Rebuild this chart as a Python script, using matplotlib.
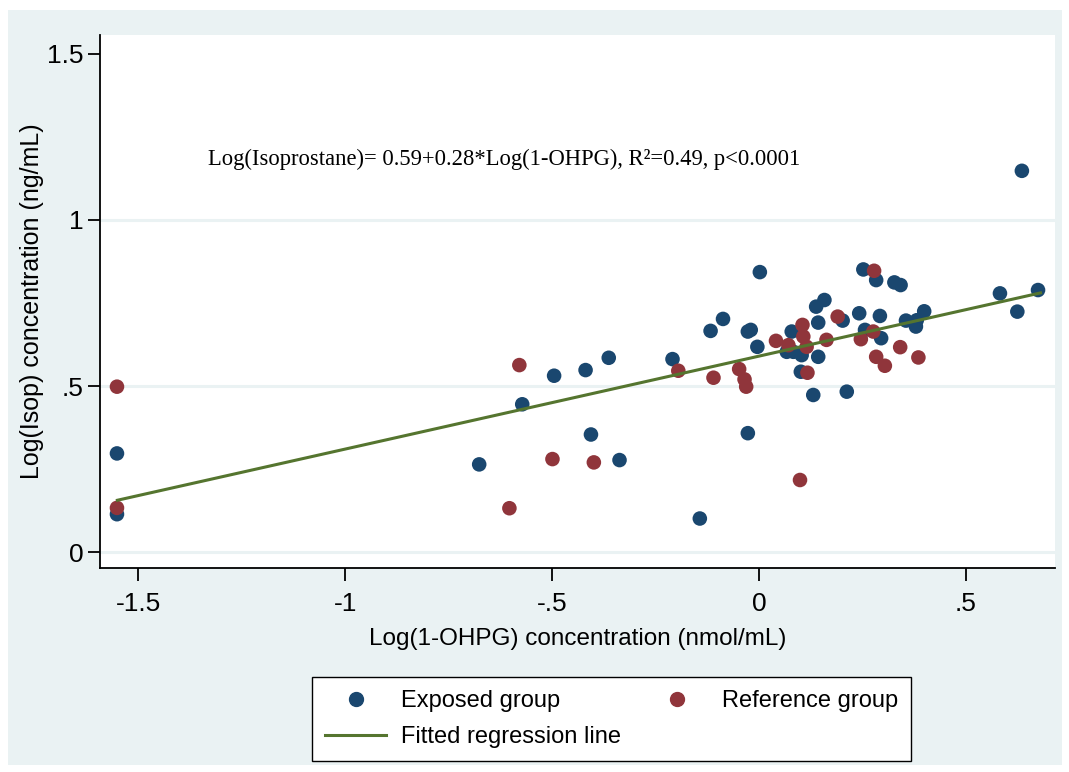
import matplotlib.pyplot as plt
from matplotlib.patches import Rectangle
from matplotlib.lines import Line2D
import numpy as np

# exposed group (log 1-OHPG, log isoprostane)
exp_x = [-1.551, -1.551, -0.676, -0.572, -0.495, -0.419, -0.406, -0.363, -0.337, -0.209,
         -0.143, -0.117, -0.087, -0.027, -0.027, -0.020, -0.004, 0.002, 0.067, 0.079,
         0.083, 0.103, 0.101, 0.131, 0.138, 0.143, 0.143, 0.158, 0.202, 0.212,
         0.242, 0.252, 0.256, 0.283, 0.292, 0.295, 0.327, 0.342, 0.355, 0.379,
         0.381, 0.399, 0.582, 0.624, 0.635, 0.674]
exp_y = [0.297, 0.114, 0.264, 0.445, 0.531, 0.548, 0.354, 0.585, 0.277, 0.581,
         0.101, 0.666, 0.702, 0.358, 0.664, 0.669, 0.618, 0.843, 0.603, 0.664,
         0.603, 0.593, 0.543, 0.473, 0.739, 0.691, 0.588, 0.759, 0.697, 0.483,
         0.719, 0.851, 0.669, 0.819, 0.711, 0.644, 0.812, 0.804, 0.697, 0.679,
         0.698, 0.725, 0.779, 0.724, 1.148, 0.789]

# reference group
ref_x = [-1.551, -1.551, -0.603, -0.579, -0.499, -0.399, -0.195, -0.110, -0.048, -0.035,
         -0.031, 0.041, 0.071, 0.099, 0.105, 0.107, 0.115, 0.117, 0.163, 0.190,
         0.246, 0.276, 0.278, 0.283, 0.304, 0.341, 0.385]
ref_y = [0.498, 0.133, 0.132, 0.563, 0.280, 0.270, 0.546, 0.525, 0.551, 0.520,
         0.498, 0.636, 0.623, 0.217, 0.684, 0.649, 0.618, 0.540, 0.639, 0.709,
         0.641, 0.664, 0.847, 0.588, 0.561, 0.617, 0.586]

intercept, slope = 0.59, 0.28
fit_x = np.array([-1.55, 0.68])
fit_y = intercept + slope * fit_x

navy = '#1A476F'
maroon = '#90353B'
green = '#55752F'
bg = '#EAF2F3'

plt.rcParams['font.family'] = ['Liberation Sans', 'DejaVu Sans']

fig = plt.figure(figsize=(10.69, 7.72), dpi=100, facecolor='white')
fig.patches.append(Rectangle((8/1069, 1 - 765/772), 1054/1069, 755/772,
                             transform=fig.transFigure, facecolor=bg, edgecolor='none', zorder=-5))

ax = fig.add_axes([100/1069, 1 - 568/772, 955/1069, 533/772])
ax.set_facecolor('white')

ax.scatter(exp_x, exp_y, s=110, color=navy, edgecolors='none', zorder=3)
ax.scatter(ref_x, ref_y, s=110, color=maroon, edgecolors='none', zorder=3)
ax.plot(fit_x, fit_y, color=green, lw=2.2, zorder=4)

ax.set_xlim(-1.592, 0.715)
ax.set_ylim(-0.048, 1.557)
ax.set_xticks([-1.5, -1, -0.5, 0, 0.5])
ax.set_xticklabels(['-1.5', '-1', '-.5', '0', '.5'])
ax.set_yticks([0, 0.5, 1, 1.5])
ax.set_yticklabels(['0', '.5', '1', '1.5'])
ax.tick_params(axis='both', labelsize=19, length=9, width=1.3, direction='out', color='black')
ax.tick_params(axis='x', pad=8)
ax.tick_params(axis='y', pad=3)

ax.yaxis.grid(True, color=bg, lw=2.2)
ax.yaxis.get_gridlines()[-1].set_visible(False)
ax.set_axisbelow(True)

for side in ['top', 'right']:
    ax.spines[side].set_visible(False)
for side in ['left', 'bottom']:
    ax.spines[side].set_linewidth(1.3)

ax.set_xlabel('Log(1-OHPG) concentration (nmol/mL)', fontsize=17.5, labelpad=9)
ax.set_ylabel('Log(Isop) concentration (ng/mL)', fontsize=18, labelpad=2)

ax.text(-1.331, 1.181, 'Log(Isoprostane)= 0.59+0.28*Log(1-OHPG), R²=0.49, p<0.0001',
        fontsize=16.3, family=['Liberation Serif', 'DejaVu Serif'], va='center', ha='left')

handles = [
    Line2D([], [], marker='o', ls='none', color=navy, markersize=10),
    Line2D([], [], color=green, lw=2.2),
    Line2D([], [], marker='o', ls='none', color=maroon, markersize=10),
]
labels = ['Exposed group', 'Fitted regression line', 'Reference group']
leg = fig.legend(handles, labels, ncol=2, loc='upper left',
                 bbox_to_anchor=(312/1069, 1 - 677/772),
                 fontsize=17, frameon=True, fancybox=False,
                 edgecolor='black', facecolor='white', framealpha=1,
                 handlelength=2.6, handletextpad=0.6, borderaxespad=0,
                 borderpad=0.55, labelspacing=0.6, columnspacing=1.1)
leg.get_frame().set_linewidth(1.0)

fig.savefig('out.png', dpi=100, facecolor=fig.get_facecolor())
